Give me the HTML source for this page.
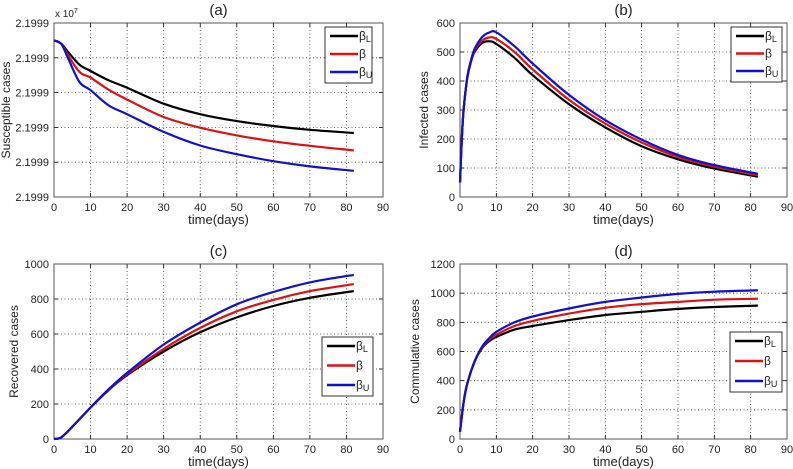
<!DOCTYPE html>
<html><head><meta charset="utf-8"><style>
body{margin:0;background:#fff}
svg{display:block;font-family:"Liberation Sans",sans-serif}
</style></head><body>
<svg id="c" width="793" height="469"></svg>
<script>
const xTicks=[0,10,20,30,40,50,60,70,80,90];
const seriesSubs=["L","","U"];
const colors=["#000","#e01010","#1010d0"];
// (a) susceptible (normalized tick units 0..5; all ticks labelled 2.1999)
const aX=[0,2,4,7,10,15,20,30,40,50,60,70,82];
const aL=[4.5,4.4,4.15,3.8,3.62,3.35,3.14,2.68,2.38,2.18,2.04,1.93,1.84];
const aM=[4.5,4.4,4.05,3.59,3.43,3.08,2.8,2.3,1.99,1.77,1.6,1.47,1.34];
const aU=[4.5,4.4,3.95,3.3,3.07,2.63,2.38,1.87,1.48,1.23,1.03,0.88,0.75];
const aYTicks=[0,1,2,3,4,5];
const aYLabels=["2.1999","2.1999","2.1999","2.1999","2.1999","2.1999"];
// (b) infected
const bX=[0,0.5,1,2,3,4,6,8,10,15,20,30,40,50,60,70,82];
const bL=[50,200,300,410,465,500,530,537,528,480,420,320,240,175,130,98,70];
const bM=[50,200,300,412,468,505,538,550,545,500,440,335,253,188,138,105,75];
const bU=[50,200,300,414,470,510,550,567,568,520,460,352,265,198,145,110,80];
const bYTicks=[0,100,200,300,400,500,600];
// (c) recovered
const cX=[0,2,5,10,15,20,30,40,50,60,70,82];
const cL=[0,10,70,180,280,365,500,610,695,760,807,845];
const cM=[0,10,70,180,282,370,515,635,730,795,845,885];
const cU=[0,10,70,180,285,378,540,665,770,840,895,938];
const cYTicks=[0,200,400,600,800,1000];
// (d) cumulative
const dX=[0,1,2,4,6,8,10,15,20,30,40,50,60,70,82];
const dL=[50,250,380,530,620,670,700,750,775,815,850,872,892,905,915];
const dM=[50,250,380,530,625,680,715,775,810,860,900,925,940,955,962];
const dU=[50,250,380,530,630,690,735,800,840,895,940,970,995,1010,1020];
const dYTicks=[0,200,400,600,800,1000,1200];

const NS="http://www.w3.org/2000/svg";
const svg=document.getElementById('c');
function el(t,a,p){const e=document.createElementNS(NS,t);for(const k in a)e.setAttribute(k,a[k]);(p||svg).appendChild(e);return e;}
function smooth(P){
  let d='M'+P[0][0].toFixed(1)+','+P[0][1].toFixed(1);
  for(let i=0;i<P.length-1;i++){
    const p0=P[Math.max(0,i-1)],p1=P[i],p2=P[i+1],p3=P[Math.min(P.length-1,i+2)];
    const c1=[p1[0]+(p2[0]-p0[0])/6,p1[1]+(p2[1]-p0[1])/6];
    const c2=[p2[0]-(p3[0]-p1[0])/6,p2[1]-(p3[1]-p1[1])/6];
    d+=' C'+c1.map(v=>v.toFixed(1))+' '+c2.map(v=>v.toFixed(1))+' '+p2.map(v=>v.toFixed(1));
  }
  return d;
}
function panel(cfg){
  const g=el('g',{});
  
  
  const {x0,x1,y0,y1,ymin,ymax}=cfg;
  const sx=v=>x0+(v-0)/90*(x1-x0);
  const sy=v=>y1-(v-ymin)/(ymax-ymin)*(y1-y0);
  xTicks.forEach(t=>{
    if(t>0&&t<90){const l=el('line',{x1:sx(t),x2:sx(t),y1:y0,y2:y1,stroke:'#333','stroke-width':0.8,'stroke-dasharray':'1,2.5'},g);
      }
    el('line',{x1:sx(t),x2:sx(t),y1:y1,y2:y1-4,stroke:'#000','stroke-width':0.8},g);
    el('line',{x1:sx(t),x2:sx(t),y1:y0,y2:y0+4,stroke:'#000','stroke-width':0.8},g);
    const tx=el('text',{x:sx(t),y:y1+14,'font-size':11,'text-anchor':'middle',fill:'#222'},g);
    tx.textContent=t;
  });
  cfg.yTicks.forEach((t,i)=>{
    if(t>ymin&&t<ymax){const l=el('line',{x1:x0,x2:x1,y1:sy(t),y2:sy(t),stroke:'#333','stroke-width':0.8,'stroke-dasharray':'1,2.5'},g);
      }
    el('line',{x1:x0,x2:x0+4,y1:sy(t),y2:sy(t),stroke:'#000','stroke-width':0.8},g);
    el('line',{x1:x1,x2:x1-4,y1:sy(t),y2:sy(t),stroke:'#000','stroke-width':0.8},g);
    const tx=el('text',{x:x0-5,y:sy(t)+4,'font-size':11,'text-anchor':'end',fill:'#222'},g);
    tx.textContent=cfg.yLabels?cfg.yLabels[i]:t;
  });
  const box=el('rect',{x:x0,y:y0,width:x1-x0,height:y1-y0,fill:'none',stroke:'#555','stroke-width':1},g);
  
  cfg.series.forEach((s,i)=>{
    const P=cfg.xs.map((x,j)=>[sx(x),sy(s[j])]);
    const p=el('path',{d:smooth(P),fill:'none',stroke:colors[i],'stroke-width':2.2,'stroke-linejoin':'round'},g);
    
  });
  const t=el('text',{x:(x0+x1)/2,y:y0-8,'font-size':15,'text-anchor':'middle',fill:'#222'},g);
  t.textContent=cfg.title;
  const xl=el('text',{x:(x0+x1)/2,y:y1+27,'font-size':13,'text-anchor':'middle',fill:'#222'},g);
  xl.textContent='time(days)';
  const yl=el('text',{x:0,y:0,'font-size':12,'text-anchor':'middle',fill:'#222',transform:`translate(${cfg.ylx},${(y0+y1)/2}) rotate(-90)`},g);
  yl.textContent=cfg.ylabel;
  const L=cfg.leg;
  const lg=el('g',{},g);
  el('rect',{x:L[0],y:L[1],width:L[2],height:L[3],fill:'#fff',stroke:'#333','stroke-width':1},lg);
  const step=(L[3]-20)/2;
  seriesSubs.forEach((sub,i)=>{
    const yy=L[1]+9+i*step;
    const e=el('g',{},lg);
    el('line',{x1:L[0]+5,x2:L[0]+33,y1:yy,y2:yy,stroke:colors[i],'stroke-width':2.5},e);
    const tx=el('text',{x:L[0]+34,y:yy+4,'font-size':12,fill:'#222'},e);
    tx.appendChild(document.createTextNode('β'));
    if(sub){const ts=el('tspan',{'font-size':9,dy:2},tx);ts.textContent=sub;}
  });
}
panel({name:'panel-a-susceptible',x0:54,x1:383,y0:23,y1:197,ymin:0,ymax:5,yTicks:aYTicks,yLabels:aYLabels,xs:aX,series:[aL,aM,aU],title:'(a)',ylabel:'Susceptible cases',ylx:10,leg:[325,27,47,56]});
panel({name:'panel-b-infected',x0:460,x1:787,y0:23,y1:197,ymin:0,ymax:600,yTicks:bYTicks,xs:bX,series:[bL,bM,bU],title:'(b)',ylabel:'Infected cases',ylx:428,leg:[731,27,51,55]});
panel({name:'panel-c-recovered',x0:54,x1:383,y0:264,y1:439,ymin:0,ymax:1000,yTicks:cYTicks,xs:cX,series:[cL,cM,cU],title:'(c)',ylabel:'Recovered cases',ylx:18,leg:[322,337,51,59]});
panel({name:'panel-d-cumulative',x0:460,x1:787,y0:264,y1:439,ymin:0,ymax:1200,yTicks:dYTicks,xs:dX,series:[dL,dM,dU],title:'(d)',ylabel:'Commulative cases',ylx:419,leg:[730,332,52,60]});
const ex=el('text',{x:55,y:17,'font-size':10,fill:'#222'});


ex.appendChild(document.createTextNode('x 10'));
const sup=el('tspan',{'font-size':7,dy:-4},ex);sup.textContent='7';
</script>
</body></html>
